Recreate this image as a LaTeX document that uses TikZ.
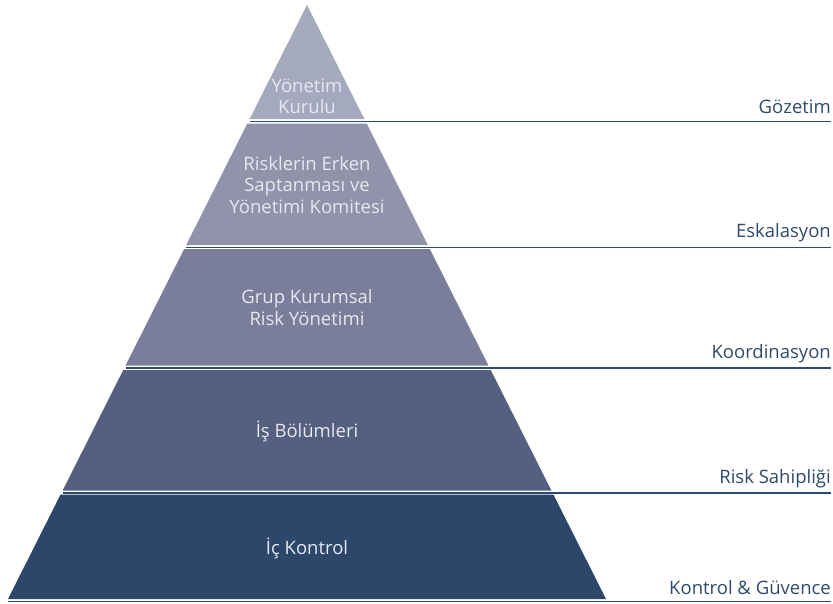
\documentclass[tikz,border=0pt]{standalone}
\usepackage{fontspec}
\setmainfont{Open Sans}
\definecolor{layA}{HTML}{A5A9BE}
\definecolor{layB}{HTML}{9093AA}
\definecolor{layC}{HTML}{7A7E9B}
\definecolor{layD}{HTML}{555F80}
\definecolor{layE}{HTML}{2D476B}
\definecolor{sepcol}{HTML}{2B4A6F}
\definecolor{intext}{HTML}{E6E8EF}
\definecolor{outtext}{HTML}{2E4A6D}
\tikzset{
  sepline/.style={draw=sepcol, line width=1.4pt},
  ptext/.style={text=intext, font=\fontsize{18.5}{22}\selectfont, anchor=base, inner sep=0pt},
  rtext/.style={text=outtext, font=\fontsize{18.5}{22}\selectfont, anchor=base east, inner sep=0pt},
}
\begin{document}
\begin{tikzpicture}[x=1pt,y=-1pt]
\useasboundingbox (0,0) rectangle (833,603);
\fill[white] (0,0) rectangle (833,603);
% pyramid layers: top/bottom/colour/name
\foreach \t/\b/\c/\n in {5/119/layA/L1, 123.5/245/layB/L2, 249/365.5/layC/L3, 370/490.5/layD/L4, 494.5/599/layE/L5}{
  \pgfmathsetmacro\wt{(\t-5)*0.50337}
  \pgfmathsetmacro\wb{(\b-5)*0.50337}
  \fill[\c] (307-\wt,\t) -- (307+\wt,\t) -- (307+\wb,\b) -- (307-\wb,\b) -- cycle;
  \coordinate (\n-bl) at (307-\wb,\b+2.5);
  \coordinate (\n-br) at (831,\b+2.5);
  \draw[sepline] (\n-bl) -- (\n-br);
}
% texts inside the pyramid
\node[ptext] (t1a) at (307,92) {Yönetim};
\node[ptext] (t1b) at (307,113) {Kurulu};
\node[ptext] (t2a) at (307,170) {Risklerin Erken};
\node[ptext] (t2b) at (307,191.5) {Saptanması ve};
\node[ptext] (t2c) at (307,213) {Yönetimi Komitesi};
\node[ptext] (t3a) at (307,303) {Grup Kurumsal};
\node[ptext] (t3b) at (307,325) {Risk Yönetimi};
\node[ptext] (t4) at (307,437) {İş Bölümleri};
\node[ptext] (t5) at (307,554) {İç Kontrol};
% labels on the right
\node[rtext] (r1) at (831,113) {Gözetim};
\node[rtext] (r2) at (831,237) {Eskalasyon};
\node[rtext] (r3) at (831,358) {Koordinasyon};
\node[rtext] (r4) at (831,483) {Risk Sahipliği};
\node[rtext] (r5) at (831,594) {Kontrol \& Güvence};
\end{tikzpicture}
\end{document}
